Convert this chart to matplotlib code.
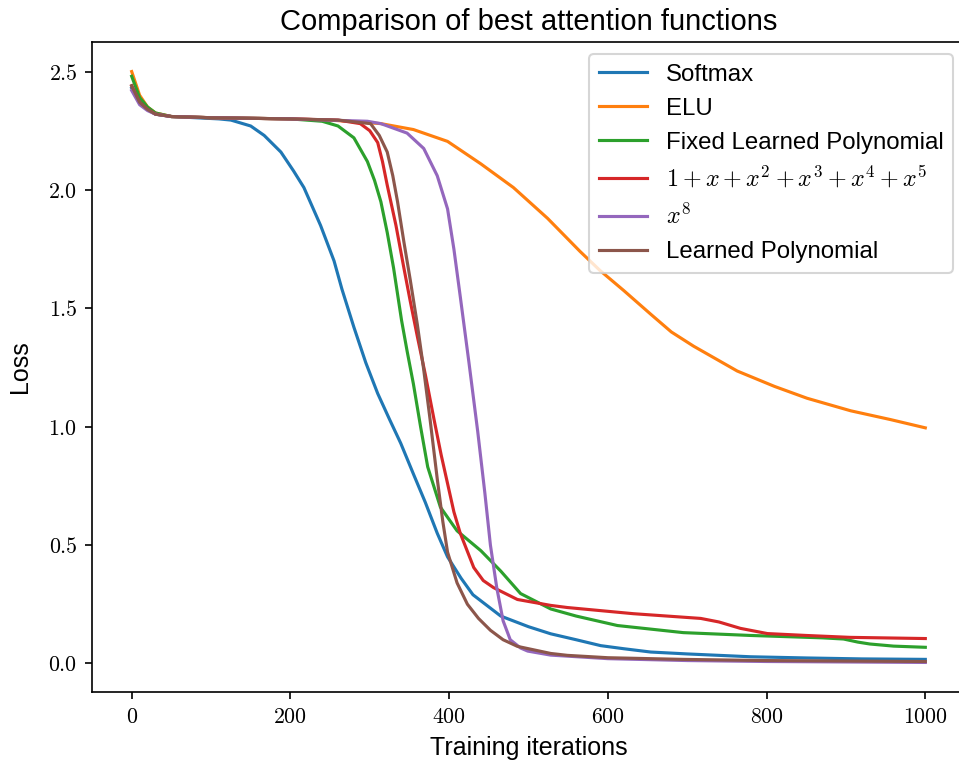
"""Comparison of best attention functions: training loss curves."""

import matplotlib

matplotlib.use("Agg")
import matplotlib.pyplot as plt
from matplotlib.ticker import FuncFormatter

# --- data ---
softmax_x = [0, 10, 20, 30, 50, 80, 110, 125, 150, 167, 188, 204, 217, 238, 255, 265, 280, 295, 310,
             325, 339, 355, 370, 385, 398, 415, 430, 465, 500, 528, 560, 591, 620, 654, 700, 780, 850,
             920, 1000]
softmax_y = [2.43, 2.37, 2.34, 2.32, 2.31, 2.305, 2.30, 2.295, 2.27, 2.23, 2.16, 2.08, 2.01, 1.85, 1.70,
             1.58, 1.42, 1.27, 1.14, 1.03, 0.93, 0.80, 0.68, 0.55, 0.45, 0.36, 0.29, 0.20, 0.155, 0.125,
             0.10, 0.075, 0.062, 0.048, 0.04, 0.028, 0.023, 0.019, 0.017]

elu_x = [0, 10, 20, 30, 50, 100, 200, 250, 314, 355, 398, 440, 481, 524, 565, 590, 620, 654, 680,
         708, 763, 810, 851, 906, 956, 1000]
elu_y = [2.50, 2.40, 2.35, 2.325, 2.31, 2.305, 2.30, 2.295, 2.28, 2.255, 2.205, 2.11, 2.01, 1.88,
         1.74, 1.66, 1.575, 1.475, 1.40, 1.34, 1.235, 1.17, 1.12, 1.067, 1.03, 0.995]

fixed_x = [0, 10, 20, 30, 50, 100, 200, 240, 260, 280, 297, 306, 314, 322, 330, 340, 347, 355, 364,
           373, 389, 410, 440, 465, 490, 528, 560, 612, 695, 780, 870, 897, 915, 930, 960, 1000]
fixed_y = [2.48, 2.39, 2.35, 2.325, 2.31, 2.305, 2.30, 2.29, 2.27, 2.22, 2.12, 2.04, 1.95, 1.82, 1.67,
           1.45, 1.32, 1.18, 1.00, 0.83, 0.66, 0.56, 0.476, 0.39, 0.295, 0.23, 0.20, 0.16, 0.13,
           0.118, 0.108, 0.103, 0.09, 0.082, 0.073, 0.068]

poly5_x = [0, 10, 20, 30, 50, 100, 200, 260, 288, 300, 310, 316, 322, 333, 343, 351, 360, 370, 381,
           390, 398, 406, 414, 431, 443, 456, 486, 528, 549, 632, 717, 740, 767, 801, 850, 905, 1000]
poly5_y = [2.44, 2.37, 2.34, 2.32, 2.31, 2.305, 2.30, 2.295, 2.28, 2.25, 2.2, 2.12, 2.02, 1.85, 1.67,
           1.53, 1.38, 1.22, 1.03, 0.88, 0.76, 0.64, 0.55, 0.405, 0.35, 0.32, 0.27, 0.245, 0.236,
           0.21, 0.19, 0.175, 0.148, 0.126, 0.118, 0.11, 0.105]

x8_x = [0, 10, 20, 30, 50, 100, 200, 297, 314, 347, 368, 385, 398, 406, 414, 425, 436, 445, 452,
        460, 468, 477, 490, 499, 528, 600, 700, 800, 1000]
x8_y = [2.42, 2.36, 2.335, 2.32, 2.31, 2.305, 2.30, 2.29, 2.28, 2.24, 2.175, 2.06, 1.92, 1.75, 1.55,
        1.27, 0.98, 0.72, 0.50, 0.32, 0.18, 0.10, 0.065, 0.052, 0.035, 0.02, 0.012, 0.008, 0.004]

learned_x = [0, 10, 20, 30, 50, 100, 200, 260, 301, 312, 322, 329, 335, 343, 351, 360, 368, 376,
             385, 392, 398, 410, 423, 437, 452, 468, 486, 528, 549, 600, 695, 800, 1000]
learned_y = [2.44, 2.37, 2.34, 2.32, 2.31, 2.305, 2.30, 2.295, 2.28, 2.23, 2.16, 2.06, 1.95, 1.78,
             1.62, 1.43, 1.24, 1.03, 0.78, 0.60, 0.47, 0.34, 0.25, 0.19, 0.14, 0.1, 0.072, 0.042,
             0.034, 0.024, 0.017, 0.012, 0.008]

series = [
    ("Softmax", softmax_x, softmax_y),
    ("ELU", elu_x, elu_y),
    ("Fixed Learned Polynomial", fixed_x, fixed_y),
    (r"$1+x+x^2+x^3+x^4+x^5$", poly5_x, poly5_y),
    (r"$x^8$", x8_x, x8_y),
    ("Learned Polynomial", learned_x, learned_y),
]

plt.rcParams["font.family"] = ["Liberation Sans", "DejaVu Sans"]
plt.rcParams["mathtext.fontset"] = "cm"

fig = plt.figure(figsize=(959 / 150, 769 / 150), dpi=150)
ax = fig.add_axes([92 / 959, 77 / 769, (965 - 92) / 959, (692 - 42) / 769])

for label, xs, ys in series:
    ax.plot(xs, ys, linewidth=1.5, label=label)

ax.xaxis.set_major_formatter(FuncFormatter(lambda v, p: f"${v:.0f}$"))
ax.yaxis.set_major_formatter(FuncFormatter(lambda v, p: f"${v:.1f}$"))
ax.set_yticks([0.0, 0.5, 1.0, 1.5, 2.0, 2.5])
ax.set_xticks([0, 200, 400, 600, 800, 1000])
ax.tick_params(labelsize=10.5)

ax.set_title("Comparison of best attention functions", fontsize=14)
ax.set_xlabel("Training iterations", fontsize=12)
ax.set_ylabel("Loss", fontsize=12, labelpad=8)
ax.legend(loc="upper right", fontsize=11.5)

fig.savefig("out.png", dpi=150)
plt.close(fig)
